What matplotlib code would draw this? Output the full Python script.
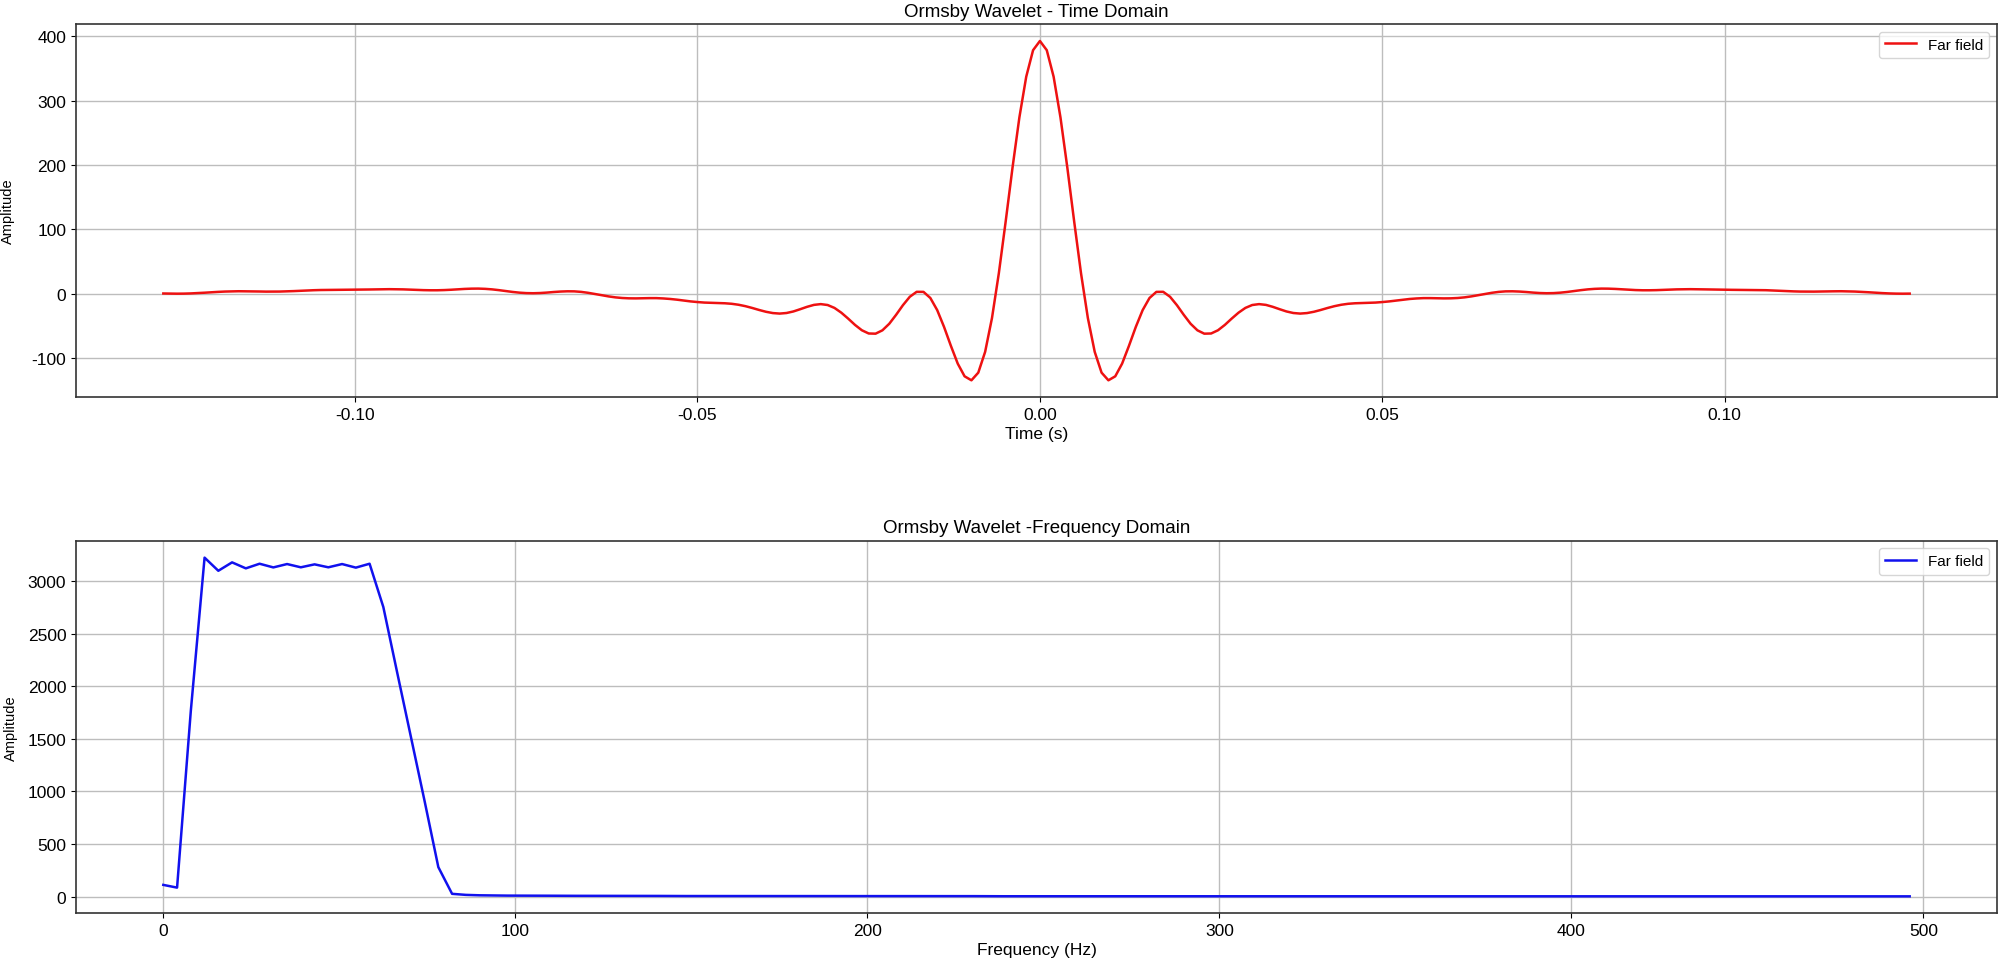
import numpy as np
import matplotlib
matplotlib.use("Agg")
import matplotlib.pyplot as plt

plt.rcParams['font.family'] = ['Liberation Sans', 'DejaVu Sans']
plt.rcParams['axes.unicode_minus'] = False

# ---- data ----
time_s = np.arange(-128, 128) * 0.001  # sample times (s)

amp_time = [
    0.6, 0.4, 0.3, 0.4, 0.7, 1.2, 1.8, 2.5, 3.1, 3.6,
    3.9, 4.1, 4.0, 3.9, 3.7, 3.5, 3.5, 3.6, 3.9, 4.3,
    4.8, 5.3, 5.7, 6.0, 6.1, 6.2, 6.2, 6.3, 6.4, 6.5,
    6.8, 7.0, 7.2, 7.3, 7.2, 7.0, 6.6, 6.2, 5.8, 5.6,
    5.6, 5.9, 6.4, 7.1, 7.7, 8.1, 8.2, 7.8, 7.0, 5.8,
    4.4, 3.0, 1.9, 1.2, 1.0, 1.3, 2.0, 2.9, 3.6, 4.0,
    3.9, 3.1, 1.7, -0.1, -2.0, -3.9, -5.4, -6.4, -6.9, -7.0,
    -6.8, -6.6, -6.6, -7.1, -7.9, -9.0, -10.4, -11.7, -12.7, -13.5,
    -13.9, -14.2, -14.6, -15.4, -16.9, -19.1, -21.9, -25.0, -27.8, -29.8,
    -30.6, -29.7, -27.3, -23.8, -20.1, -17.1, -15.9, -17.3, -21.8, -29.2,
    -38.4, -48.2, -56.5, -61.5, -61.8, -56.6, -46.4, -32.5, -17.5, -4.5,
    3.2, 3.1, -6.4, -25.2, -51.3, -80.7, -108.3, -128.0, -134.2, -122.3,
    -90.0, -37.5, 32.0, 112.5, 196.2, 274.0, 337.2, 378.4,
    392.7,
    378.4, 337.2, 274.0, 196.2, 112.5, 32.0, -37.5, -90.0,
    -122.3, -134.2, -128.0, -108.3, -80.7, -51.3, -25.2, -6.4, 3.1, 3.2,
    -4.5, -17.5, -32.5, -46.4, -56.6, -61.8, -61.5, -56.5, -48.2, -38.4,
    -29.2, -21.8, -17.3, -15.9, -17.1, -20.1, -23.8, -27.3, -29.7, -30.6,
    -29.8, -27.8, -25.0, -21.9, -19.1, -16.9, -15.4, -14.6, -14.2, -13.9,
    -13.5, -12.7, -11.7, -10.4, -9.0, -7.9, -7.1, -6.6, -6.6, -6.8,
    -7.0, -6.9, -6.4, -5.4, -3.9, -2.0, -0.1, 1.7, 3.1, 3.9,
    4.0, 3.6, 2.9, 2.0, 1.3, 1.0, 1.2, 1.9, 3.0, 4.4,
    5.8, 7.0, 7.8, 8.2, 8.1, 7.7, 7.1, 6.4, 5.9, 5.6,
    5.6, 5.8, 6.2, 6.6, 7.0, 7.2, 7.3, 7.2, 7.0, 6.8,
    6.5, 6.4, 6.3, 6.2, 6.2, 6.1, 6.0, 5.7, 5.3, 4.8,
    4.3, 3.9, 3.6, 3.5, 3.5, 3.7, 3.9, 4.0, 4.1, 3.9,
    3.6, 3.1, 2.5, 1.8, 1.2, 0.7, 0.4, 0.3, 0.4,
]

freq_hz = np.arange(128) * 1000.0 / 256.0  # frequency bins (Hz)

amp_freq = [
    111, 85, 1767, 3225, 3100, 3180, 3123, 3167, 3132, 3164,
    3133, 3161, 3133, 3164, 3130, 3167, 2755, 2136, 1523, 909,
    280, 26, 16, 12, 10, 9, 9, 8, 8, 7,
    7, 7, 6, 6, 6, 6, 6, 5, 5, 5,
    5, 5, 5, 5, 5, 4, 4, 4, 4, 4,
    4, 4, 4, 4, 4, 4, 4, 4, 4, 4,
    3, 3, 3, 3, 3, 3, 3, 3, 3, 3,
    3, 3, 3, 3, 3, 3, 3, 3, 3, 3,
    3, 3, 3, 3, 3, 3, 3, 3, 3, 3,
    2, 2, 2, 2, 2, 2, 2, 2, 2, 2,
    2, 2, 2, 2, 2, 2, 2, 2, 2, 2,
    2, 2, 2, 2, 2, 2, 2, 2, 2, 2,
    2, 2, 2, 2, 2, 2, 2, 2,
]

series_label = "Far field"
titles = ["Ormsby Wavelet - Time Domain", "Ormsby Wavelet -Frequency Domain"]
xlabels = ["Time (s)", "Frequency (Hz)"]

# ---- figure ----
fig = plt.figure(figsize=(20, 9.62), dpi=100)
ax1 = fig.add_axes([0.038, 0.586, 0.9605, 0.388])
ax2 = fig.add_axes([0.038, 0.0496, 0.9605, 0.3873])

ax1.plot(time_s, amp_time, color='#ee1111', lw=1.8, label=series_label)
ax2.plot(freq_hz, amp_freq, color='#1111ee', lw=1.8, label=series_label)

for ax, ttl, xl in zip([ax1, ax2], titles, xlabels):
    ax.set_title(ttl, fontsize=13.5)
    ax.set_xlabel(xl, fontsize=12.5, labelpad=3)
    ax.set_ylabel("Amplitude", fontsize=10.5)
    ax.grid(True, color='#bdbdbd', lw=1.0)
    ax.tick_params(labelsize=12.5)
    ax.legend(loc='upper right', fontsize=11)
    for s in ax.spines.values():
        s.set_color('#333333')
        s.set_linewidth(1.2)

ax1.yaxis.set_label_coords(-0.032, 0.5)
ax2.yaxis.set_label_coords(-0.030, 0.5)
ax1.xaxis.set_major_formatter(matplotlib.ticker.FormatStrFormatter('%.2f'))

fig.savefig("out.png", dpi=100)
